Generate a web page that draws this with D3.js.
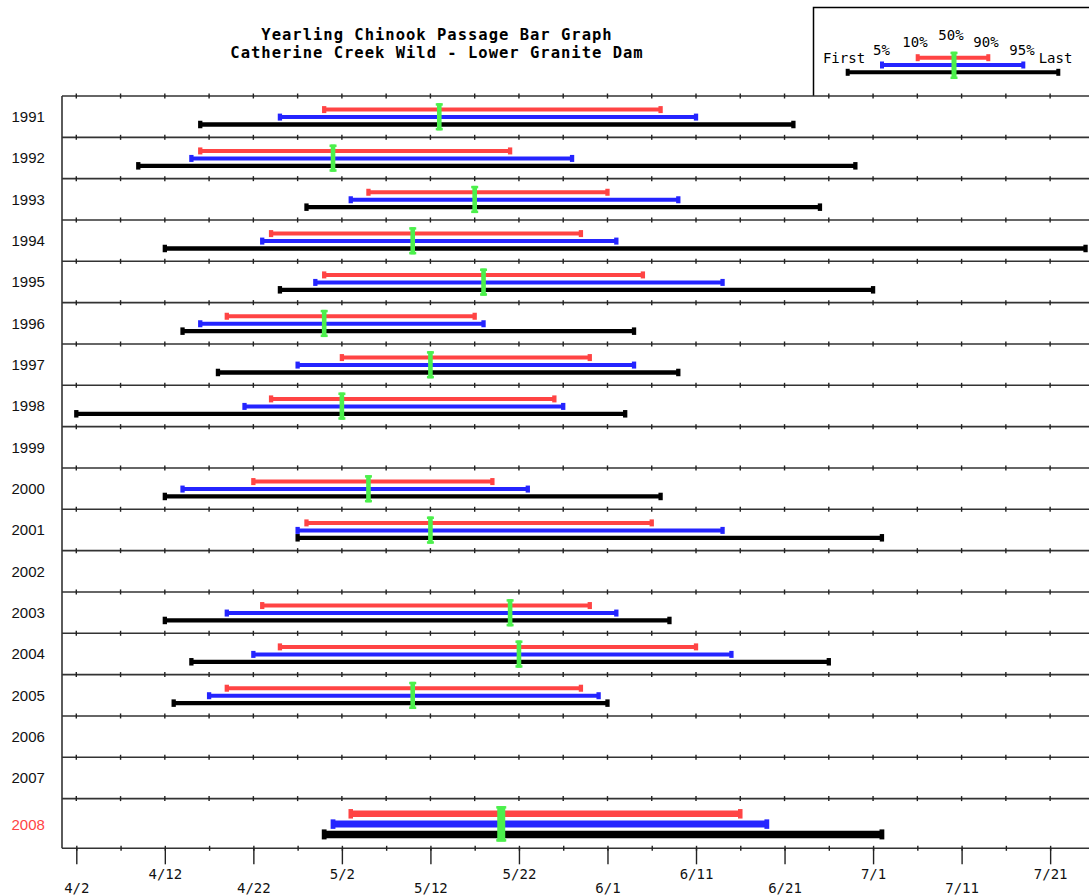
<!DOCTYPE html>
<html><head><meta charset="utf-8">
<script src="https://cdn.jsdelivr.net/npm/d3@7"></script>
<style>
html,body{margin:0;padding:0;background:#fff;}
svg{display:block;}
</style></head>
<body>
<script>
// ---------------- data ----------------
const years = [1991,1992,1993,1994,1995,1996,1997,1998,1999,2000,2001,2002,2003,2004,2005,2006,2007,2008];
const firstDay = ["4/16","4/9","4/28","4/12","4/25","4/14","4/18","4/2",null,"4/12","4/27",null,"4/12","4/15","4/13",null,null,"4/30"];
const p5  = ["4/25","4/15","5/3","4/23","4/29","4/16","4/27","4/21",null,"4/14","4/27",null,"4/19","4/22","4/17",null,null,"5/1"];
const p10 = ["4/30","4/16","5/5","4/24","4/30","4/19","5/2","4/24",null,"4/22","4/28",null,"4/23","4/25","4/19",null,null,"5/3"];
const p50 = ["5/13","5/1","5/17","5/10","5/18","4/30","5/12","5/2",null,"5/5","5/12",null,"5/21","5/22","5/10",null,null,"5/20"];
const p90 = ["6/7","5/21","6/1","5/29","6/5","5/17","5/30","5/26",null,"5/19","6/6",null,"5/30","6/11","5/29",null,null,"6/16"];
const p95 = ["6/11","5/28","6/9","6/2","6/14","5/18","6/4","5/27",null,"5/23","6/14",null,"6/2","6/15","5/31",null,null,"6/19"];
const lastDay = ["6/22","6/29","6/25","7/25","7/1","6/4","6/9","6/3",null,"6/7","7/2",null,"6/8","6/26","6/1",null,null,"7/2"];
const tickLabels = ["4/2","4/12","4/22","5/2","5/12","5/22","6/1","6/11","6/21","7/1","7/11","7/21"];
const highlightYear = 2008;
const titleLines = ["Yearling Chinook Passage Bar Graph","Catherine Creek Wild - Lower Granite Dam"];

// ---------------- layout ----------------
const W = 1089, H = 896;
const plotLeft = 62, plotTop = 96, rowH = 41.33, lastRowH = 49.7;
const axisY = plotTop + rowH*(years.length-1) + lastRowH;
const RED = "#ff4444", BLUE = "#2424ff", GREEN = "#4cf04c", BLACK = "#000";
const MONO = "'DejaVu Sans Mono', 'Liberation Mono', monospace";

const parse = d3.utcParse("%m/%d/%Y");
const toDate = s => parse(s + "/2001");

const x = d3.scaleUtc()
  .domain([toDate("4/2"), toDate("7/31")])
  .range([76.3, 76.3 + 120*8.853]);

const fiveDay = d3.range(0, 121, 5).map(k => d3.utcDay.offset(x.domain()[0], k));
const majorDates = tickLabels.map(toDate);

const svg = d3.select("body").append("svg").attr("width", W).attr("height", H);

// title
svg.append("g").selectAll("text").data(titleLines).join("text")
  .attr("x", 437).attr("y", (d,i) => 40 + i*18)
  .attr("text-anchor", "middle")
  .style("font-family", MONO).style("font-weight", "bold").style("font-size", "15.5px")
  .style("letter-spacing", "1px")
  .text(d => d);

// legend box
const lg = svg.append("g");
lg.append("path").attr("d", `M813.5,96 V7.5 H1095`).attr("fill","none").attr("stroke","#000").attr("stroke-width",1.5);

function bar(g, x1, x2, y, color, th, capW, capH){
  g.append("line").attr("x1",x1).attr("x2",x2).attr("y1",y).attr("y2",y)
    .attr("stroke",color).attr("stroke-width",th);
  [x1,x2].forEach(cx => g.append("rect").attr("x",cx-capW/2).attr("y",y-capH/2)
    .attr("width",capW).attr("height",capH).attr("fill",color));
}
function median(g, cx, y1, y2, w, capW){
  g.append("rect").attr("x",cx-w/2).attr("y",y1).attr("width",w).attr("height",y2-y1).attr("fill",GREEN);
  g.append("rect").attr("x",cx-capW/2).attr("y",y1).attr("width",capW).attr("height",2.5).attr("fill",GREEN);
  g.append("rect").attr("x",cx-capW/2).attr("y",y2-2.5).attr("width",capW).attr("height",2.5).attr("fill",GREEN);
}
bar(lg, 847.7, 1058.3, 72.3, BLACK, 4, 4, 7);
bar(lg, 882, 1023.3, 65, BLUE, 4, 4, 7);
bar(lg, 917.7, 988.3, 57.7, RED, 4, 4, 7);
median(lg, 954, 51.7, 79, 5, 7);
const legendTexts = [
  {t:"First", x:844, y:62.7}, {t:"5%", x:881.5, y:55}, {t:"10%", x:915, y:47},
  {t:"50%", x:951, y:40}, {t:"90%", x:986, y:47}, {t:"95%", x:1022, y:55}, {t:"Last", x:1055.5, y:63}
];
lg.selectAll("text.l").data(legendTexts).join("text")
  .attr("x", d=>d.x).attr("y", d=>d.y).attr("text-anchor","middle")
  .style("font-family", MONO).style("font-size","14px").text(d=>d.t);

// row geometry
const rowTop = i => plotTop + i*rowH;

// separators with tick marks
const sepG = svg.append("g");
for (let i = 0; i < years.length; i++) {
  const y = rowTop(i);
  sepG.append("line").attr("x1", plotLeft).attr("x2", W).attr("y1", y).attr("y2", y)
    .attr("stroke", "#333").attr("stroke-width", 1.6);
  sepG.selectAll(null).data(fiveDay).join("line")
    .attr("x1", d=>x(d)).attr("x2", d=>x(d)).attr("y1", y-2.5).attr("y2", y+2.5)
    .attr("stroke", "#222").attr("stroke-width", 1.4);
}
// left frame
svg.append("line").attr("x1", plotLeft).attr("x2", plotLeft).attr("y1", plotTop).attr("y2", axisY)
  .attr("stroke", "#333").attr("stroke-width", 1.6);

// row labels
svg.append("g").selectAll("text").data(years).join("text")
  .attr("x", 11.5)
  .attr("y", (d,i) => i === years.length-1 ? rowTop(i) + 31.5 : rowTop(i) + 26)
  .attr("fill", d => d === highlightYear ? RED : "#111")
  .style("font-family", "'Liberation Sans', Arial, sans-serif").style("font-size", "15px")
  .text(d => d);

// bars
const barsG = svg.append("g");
years.forEach((yr, i) => {
  if (!firstDay[i]) return;
  const top = rowTop(i);
  const big = yr === highlightYear;
  const g = barsG.append("g");
  if (!big) {
    bar(g, x(toDate(p10[i])), x(toDate(p90[i])), top + 13.6, RED, 4, 4.3, 7);
    bar(g, x(toDate(p5[i])), x(toDate(p95[i])), top + 21.1, BLUE, 4, 4.3, 7);
    bar(g, x(toDate(firstDay[i])), x(toDate(lastDay[i])), top + 28.5, BLACK, 4.3, 4.3, 7.5);
    median(g, x(toDate(p50[i])), top + 7.2, top + 34.4, 4.6, 7);
  } else {
    bar(g, x(toDate(p10[i])), x(toDate(p90[i])), top + 15.2, RED, 6.5, 4.5, 9.5);
    bar(g, x(toDate(p5[i])), x(toDate(p95[i])), top + 25.5, BLUE, 7, 4.8, 9.5);
    bar(g, x(toDate(firstDay[i])), x(toDate(lastDay[i])), top + 35.8, BLACK, 7.5, 4.8, 10);
    median(g, x(toDate(p50[i])), top + 7.5, top + 43, 8, 10);
  }
});

// bottom axis
svg.append("line").attr("x1", plotLeft).attr("x2", W).attr("y1", axisY).attr("y2", axisY)
  .attr("stroke", "#333").attr("stroke-width", 1.6);
const minorAxis = d3.axisBottom(x).tickValues(fiveDay).tickSize(2.5).tickFormat("");
const mg = svg.append("g").attr("transform", `translate(0,${axisY})`).call(minorAxis);
mg.select(".domain").remove();
mg.selectAll(".tick line").attr("y1", -2.5).attr("stroke", "#222").attr("stroke-width", 1.4);

const majorAxis = d3.axisBottom(x).tickValues(majorDates).tickSize(16).tickFormat((d,i) => tickLabels[i]);
const ag = svg.append("g").attr("transform", `translate(0,${axisY})`).call(majorAxis);
ag.select(".domain").remove();
ag.selectAll(".tick line").attr("stroke", "#222").attr("stroke-width", 1.4);
ag.selectAll(".tick text")
  .attr("dy", null)
  .attr("y", (d,i) => i % 2 === 0 ? 44.5 : 31)
  .attr("fill", "#111")
  .style("font-family", MONO).style("font-size", "14px");
</script>
</body></html>
